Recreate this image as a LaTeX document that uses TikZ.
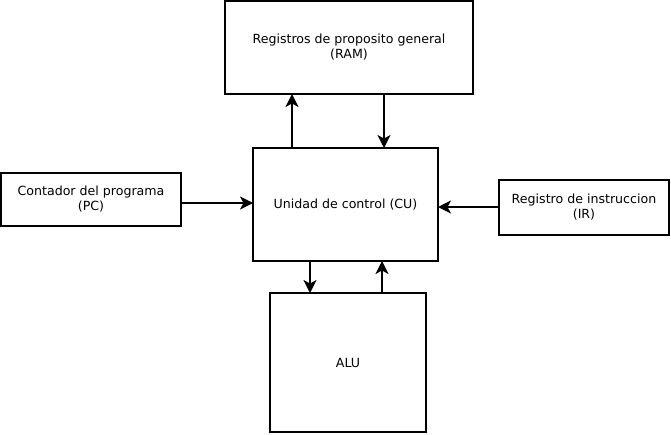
\documentclass[tikz,border=0pt]{standalone}
\usepackage{fontspec}
\setmainfont{DejaVu Sans}
\usetikzlibrary{arrows.meta}
\begin{document}
\begin{tikzpicture}[x=1pt,y=-1pt,
  blk/.style={draw, line width=1.8pt, outer sep=0pt, inner sep=0pt, align=center,
    font=\fontsize{12.6}{15}\selectfont},
  arr/.style={line width=1.8pt, -{Stealth[length=13pt,width=13pt,inset=3.5pt]}}]
\useasboundingbox (0,0) rectangle (671,434);
\node[blk, minimum width=248pt, minimum height=93pt] (ram) at (349,47.5) {Registros de proposito general\\(RAM)};
\node[blk, minimum width=185pt, minimum height=113pt] (cu) at (345.5,204.5) {Unidad de control (CU)};
\node[blk, minimum width=180pt, minimum height=53pt] (pc) at (91,199.5) {Contador del programa\\(PC)};
\node[blk, minimum width=170pt, minimum height=55pt] (ir) at (584,207.5) {Registro de instruccion\\(IR)};
\node[blk, minimum width=156pt, minimum height=139pt] (alu) at (348,362.5) {ALU};
\coordinate (x1) at (292,0);
\coordinate (x2) at (384,0);
\coordinate (x3) at (310,0);
\coordinate (x4) at (382,0);
\coordinate (y1) at (0,203);
\coordinate (y2) at (0,207);
\draw[arr] (x1 |- cu.north) -- (x1 |- ram.south);
\draw[arr] (x2 |- ram.south) -- (x2 |- cu.north);
\draw[arr] (pc.east |- y1) -- (cu.west |- y1);
\draw[arr] (ir.west |- y2) -- (cu.east |- y2);
\draw[arr] (x3 |- cu.south) -- (x3 |- alu.north);
\draw[arr] (x4 |- alu.north) -- (x4 |- cu.south);
\end{tikzpicture}
\end{document}
